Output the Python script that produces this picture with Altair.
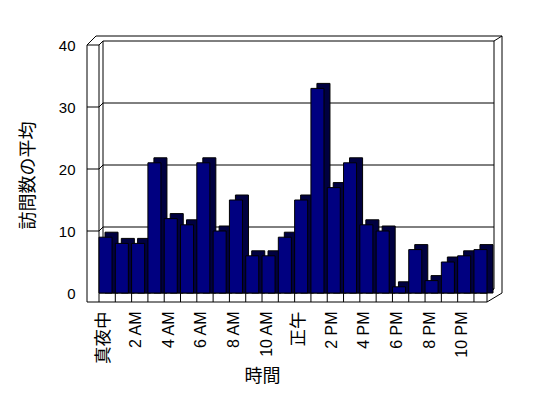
import altair as alt
import pandas as pd

# ---- data ----
hours = ["真夜中", "1 AM", "2 AM", "3 AM", "4 AM", "5 AM", "6 AM", "7 AM", "8 AM", "9 AM",
         "10 AM", "11 AM", "正午", "1 PM", "2 PM", "3 PM", "4 PM", "5 PM", "6 PM", "7 PM",
         "8 PM", "9 PM", "10 PM", "11 PM"]
visits = [9, 8, 8, 21, 12, 11, 21, 10, 15, 6, 6, 9, 15, 33, 17, 21, 11, 10, 1, 7, 2, 5, 6, 7]
y_ticks = [0, 10, 20, 30, 40]
x_labels = hours[::2]

df = pd.DataFrame({"hour": hours, "visits": visits})
grid_df = pd.DataFrame({"v": y_ticks[1:]})

W, H = 388, 248
OX, OY = 99, 45  # page position of the plot origin (8px page margin included)

xscale = alt.Scale(domain=hours, paddingInner=0.2, paddingOuter=0)
yscale = alt.Scale(domain=[0, 40], nice=False)

FONT = "Liberation Sans, Arial, Noto Sans CJK JP, sans-serif"

x_axis = alt.Axis(values=x_labels, labelAngle=270,
                  labelFontSize={"condition": {"test": "datum.label == '真夜中' || datum.label == '正午'",
                                               "value": 17.5}, "value": 16},
                  labelFont=FONT,
                  labelColor="black", labelPadding=18, labelOffset=-2,
                  ticks=False, tickSize=0, domain=False, grid=False,
                  titleFont=FONT, titleFontSize=18, titleFontWeight="normal",
                  titleColor="black", titleX=163, titleY=88,
                  titleBaseline="alphabetic", titleAlign="center")
y_axis = alt.Axis(values=y_ticks, labelFontSize=15, labelFont=FONT,
                  labelColor="black", labelPadding=24,
                  ticks=False, tickSize=0, domain=False, grid=False,
                  titleFont=FONT, titleFontSize=18, titleFontWeight="normal",
                  titleColor="black", titleAngle=270, titleX=-71, titleY=130,
                  titleAlign="center", titleBaseline="middle")

X = lambda **kw: alt.X("hour:N", scale=xscale, sort=hours, title="時間", axis=x_axis, **kw)
Y_vis = alt.Y("visits:Q", scale=yscale, title="訪問数の平均", axis=y_axis)
Y_v = alt.Y("v:Q", scale=yscale, title="訪問数の平均", axis=y_axis)

# ---- decorative 3D frame (page coordinates -> plot coordinates) ----
frame_segments = [
    (87, 45, 87, 302), (87, 302, 487, 302), (487, 302, 502, 293), (502, 293, 502, 36),
    (96, 36, 502, 36), (87, 45, 96, 36),
    (99, 45, 99, 293), (103, 41, 103, 289), (494, 41, 494, 289), (494, 41, 502, 36),
    (99, 293, 487, 293), (487, 293, 487, 302), (487, 293, 494, 289), (103, 289, 494, 289),
]
frame_layers = []
for (x1, y1, x2, y2) in frame_segments:
    frame_layers.append(
        alt.Chart(df.head(1)).mark_rule(color="black", strokeWidth=1).encode(
            x=alt.value(x1 - OX), x2=alt.value(x2 - OX),
            y=alt.value(y1 - OY), y2=alt.value(y2 - OY))
    )

# back-wall gridlines
grid = alt.Chart(grid_df).mark_rule(color="black", strokeWidth=1, yOffset=-4).encode(
    y=Y_v, x=alt.value(103 - OX), x2=alt.value(494 - OX))

# ticks on the left side wall
left_h = alt.Chart(grid_df).mark_rule(color="black", strokeWidth=1).encode(
    y=Y_v, x=alt.value(87 - OX), x2=alt.value(0))
left_d = alt.Chart(grid_df).mark_rule(color="black", strokeWidth=1, y2Offset=-4).encode(
    y=Y_v, y2=alt.Y2("v:Q"), x=alt.value(0), x2=alt.value(103 - OX))

# ticks on the floor front face
floor_ticks = alt.Chart(df).mark_rule(color="black", strokeWidth=1).encode(
    x=X(bandPosition=0), y=alt.value(H), y2=alt.value(302 - OY))

# bar depth (side + top faces)
shadow = alt.Chart(df).mark_bar(color="#000040", stroke="black", strokeWidth=1,
                                xOffset=6, yOffset=-5).encode(
    x=X(), y=Y_vis, y2=alt.datum(0))

# bar front faces
front = alt.Chart(df).mark_bar(color="#000080", stroke="black", strokeWidth=1).encode(
    x=X(), y=Y_vis, y2=alt.datum(0))

chart = alt.layer(*frame_layers, grid, left_h, left_d, floor_ticks, shadow, front).properties(
    width=W, height=H,
    autosize=alt.AutoSizeParams(type="none"),
    padding={"left": OX - 8, "top": OY - 8, "right": 45, "bottom": 92},
    background="white",
).configure_view(stroke=None)

chart.save("out.html", embed_options={"renderer": "svg", "actions": False})
